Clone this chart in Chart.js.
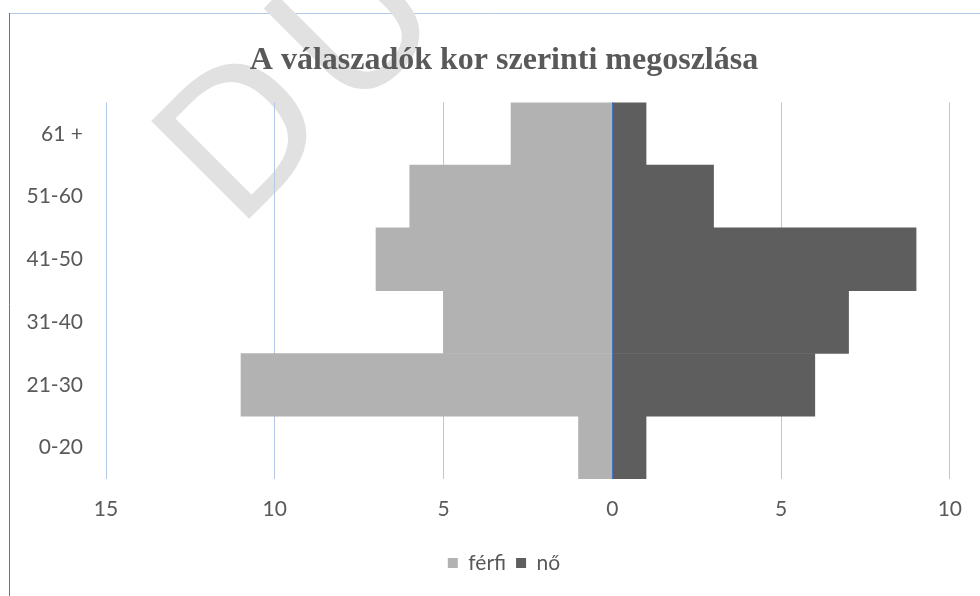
<!DOCTYPE html>
<html>
<head>
<meta charset="utf-8">
<script src="https://cdn.jsdelivr.net/npm/chart.js@4/dist/chart.umd.min.js"></script>
<style>
  html, body { margin: 0; padding: 0; background: #fff; }
  #wrap { width: 980px; height: 596px; position: relative; }
</style>
</head>
<body>
<div id="wrap"><canvas id="chart" width="980" height="596"></canvas></div>
<script>
const ageGroups = ['61 +', '51-60', '41-50', '31-40', '21-30', '0-20'];
const ferfi = [3, 6, 7, 5, 11, 1];
const no = [1, 3, 9, 7, 6, 1];

// keret + vízjel a háttérben
const background = {
    id: 'background',
    beforeDraw(chart) {
        const ctx = chart.ctx;
        ctx.save();
        ctx.fillStyle = '#fff';
        ctx.fillRect(0, 0, chart.width, chart.height);
        ctx.lineWidth = 1;
        ctx.strokeStyle = '#b4c7e7';
        ctx.beginPath();
        ctx.moveTo(9, 13.5);
        ctx.lineTo(chart.width, 13.5);
        ctx.stroke();
        ctx.strokeStyle = '#4a78c8';
        ctx.beginPath();
        ctx.moveTo(9.5, 13);
        ctx.lineTo(9.5, chart.height);
        ctx.stroke();

        ctx.translate(236, 232);
        ctx.rotate(-Math.PI / 4);
        ctx.fillStyle = '#e1e1e1';
        ctx.font = '190px "DejaVu Sans"';
        ctx.textBaseline = 'alphabetic';
        ctx.fillText('D', 0, 0);
        ctx.fillText('U', ctx.measureText('D').width + 15, 0);
        ctx.restore();
    },
    // a tengelyfeliratok ne vágódjanak le
    afterLayout(chart) {
        chart.scales.y.left = 0;
    }
};

// a 0 tengely a sávok fölött
const zeroLine = {
    id: 'zeroLine',
    afterDatasetsDraw(chart) {
        const { ctx, chartArea, scales } = chart;
        const x = Math.round(scales.x.getPixelForValue(0)) + 0.5;
        ctx.save();
        ctx.strokeStyle = '#4472c4';
        ctx.lineWidth = 1;
        ctx.beginPath();
        ctx.moveTo(x, chartArea.top);
        ctx.lineTo(x, chartArea.bottom);
        ctx.stroke();
        ctx.restore();
    }
};

const fontFamily = 'Lato, "Open Sans", sans-serif';

new Chart(document.getElementById('chart'), {
    type: 'bar',
    data: {
        labels: ageGroups,
        datasets: [
            {
                label: 'férfi',
                data: ferfi.map(v => -v),
                backgroundColor: '#b2b2b2',
                borderWidth: 0,
                barPercentage: 1,
                categoryPercentage: 1
            },
            {
                label: 'nő',
                data: no,
                backgroundColor: '#5e5e5e',
                borderWidth: 0,
                barPercentage: 1,
                categoryPercentage: 1
            }
        ]
    },
    options: {
        indexAxis: 'y',
        responsive: false,
        animation: false,
        layout: { padding: { left: 57, right: 29, top: 0, bottom: 12.5 } },
        scales: {
            x: {
                stacked: true,
                min: -15,
                max: 10,
                ticks: {
                    stepSize: 5,
                    color: '#595959',
                    font: { family: fontFamily, size: 21 },
                    padding: 18,
                    callback: v => Math.abs(v)
                },
                grid: {
                    color: '#b4c7e7',
                    drawTicks: false
                },
                border: { display: false },
                afterFit(scale) { scale.height = 63.5; }
            },
            y: {
                stacked: true,
                ticks: {
                    color: '#595959',
                    font: { family: fontFamily, size: 21 },
                    padding: 23
                },
                grid: { display: false, drawTicks: false },
                border: { display: false },
                afterFit(scale) { scale.width = 49; }
            }
        },
        plugins: {
            title: {
                display: true,
                text: 'A válaszadók kor szerinti megoszlása',
                color: '#595959',
                font: { family: '"Liberation Serif", serif', size: 32, weight: 'bold' },
                padding: { top: 42, bottom: 22 }
            },
            legend: {
                position: 'bottom',
                labels: {
                    color: '#595959',
                    font: { family: fontFamily, size: 21 },
                    boxWidth: 10,
                    boxHeight: 10,
                    padding: 10
                }
            },
            tooltip: { enabled: false }
        }
    },
    plugins: [background, zeroLine]
});
</script>
</body>
</html>
